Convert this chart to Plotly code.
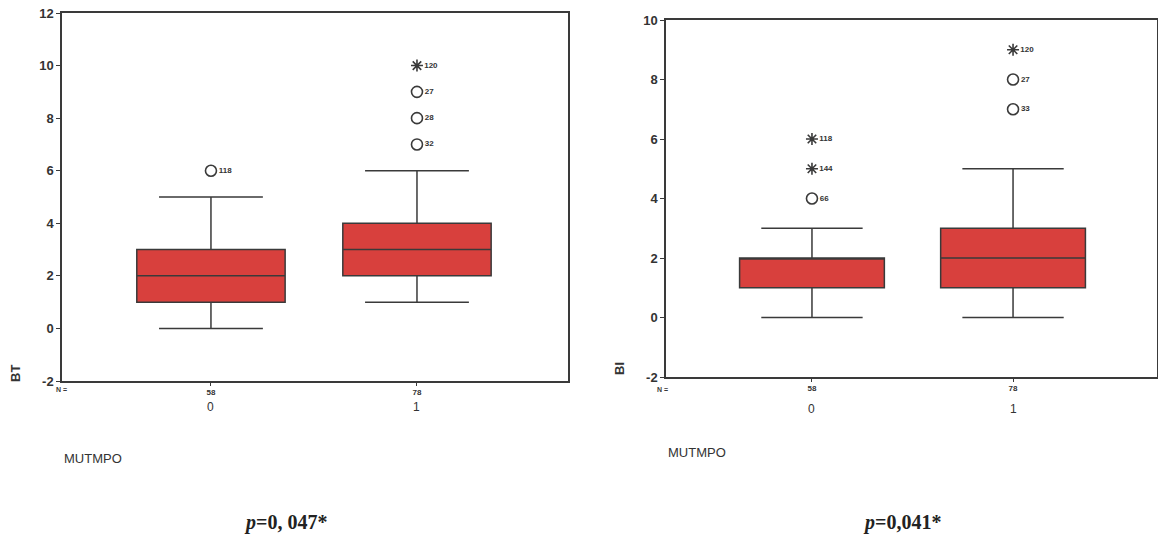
import plotly.graph_objects as go

# ---------------- data ----------------
groups = [0, 1]
group_labels = ["0", "1"]
n_counts = ["58", "78"]

# BT (left panel)
bt_lower = [0, 1]
bt_q1 = [1, 2]
bt_median = [2, 3]
bt_q3 = [3, 4]
bt_upper = [5, 6]
bt_out_x = [0, 1, 1, 1, 1]
bt_out_y = [6, 7, 8, 9, 10]
bt_out_label = ["118", "32", "28", "27", "120"]
bt_out_extreme = [False, False, False, False, True]
bt_ticks = [-2, 0, 2, 4, 6, 8, 10, 12]

# BI (right panel)
bi_lower = [0, 0]
bi_q1 = [1, 1]
bi_median = [2, 2]
bi_q3 = [2, 3]
bi_upper = [3, 5]
bi_out_x = [0, 0, 0, 1, 1, 1]
bi_out_y = [4, 5, 6, 7, 8, 9]
bi_out_label = ["66", "144", "118", "33", "27", "120"]
bi_out_extreme = [False, True, True, False, False, True]
bi_ticks = [-2, 0, 2, 4, 6, 8, 10]

p_left = "0, 047*"
p_right = "0,041*"

# ---------------- style ----------------
W, H = 1158, 539
RED = "#d8403d"
DARK = "#3a3a3a"
SANS = "Liberation Sans, Arial, sans-serif"
SERIF = "Liberation Serif, Times New Roman, serif"

fig = go.Figure()


def add_panel(xa, ya, lower, q1, med, q3, upper, ox, oy, olab, oext):
    fig.add_trace(go.Box(
        x=groups, q1=q1, median=med, q3=q3, lowerfence=lower, upperfence=upper,
        width=0.72, whiskerwidth=0.7, fillcolor=RED,
        line=dict(color=DARK, width=1.5), boxpoints=False,
        xaxis=xa, yaxis=ya, showlegend=False, hoverinfo="skip",
    ))
    for ext in (False, True):
        xs = [x for x, e in zip(ox, oext) if e == ext]
        ys = [y for y, e in zip(oy, oext) if e == ext]
        ls = [f"<b>{l}</b>" for l, e in zip(olab, oext) if e == ext]
        fig.add_trace(go.Scatter(
            x=xs, y=ys, text=ls, mode="markers+text",
            textposition="middle right",
            textfont=dict(family=SANS, size=8, color="#333333"),
            marker=dict(
                symbol="asterisk-open" if ext else "circle-open",
                size=10 if ext else 11,
                color=DARK,
                line=dict(color=DARK, width=1.6),
            ),
            xaxis=xa, yaxis=ya, showlegend=False, hoverinfo="skip",
        ))


add_panel("x", "y", bt_lower, bt_q1, bt_median, bt_q3, bt_upper,
          bt_out_x, bt_out_y, bt_out_label, bt_out_extreme)
add_panel("x2", "y2", bi_lower, bi_q1, bi_median, bi_q3, bi_upper,
          bi_out_x, bi_out_y, bi_out_label, bi_out_extreme)

axis_common = dict(showline=True, mirror=True, linecolor=DARK, linewidth=1.5,
                   showgrid=False, zeroline=False, ticks="outside",
                   tickcolor=DARK, ticklen=4, tickwidth=1.2, automargin=False)

xfont = dict(family=SANS, size=8, color="#333333")
yfont = dict(family=SANS, size=13, color="#333333")

fig.update_layout(
    width=W, height=H, margin=dict(l=0, r=0, t=0, b=0, autoexpand=False),
    paper_bgcolor="white", plot_bgcolor="white",
    xaxis=dict(domain=[62 / W, 568 / W], range=[-0.723, 1.733],
               tickvals=groups, ticktext=[f"<b>{n}</b>" for n in n_counts],
               tickfont=xfont, anchor="y", **{**axis_common, "ticklen": 3}),
    yaxis=dict(domain=[1 - 381 / H, 1 - 13 / H], range=[-2, 12],
               tickvals=bt_ticks, ticktext=[f"<b>{t}</b>" for t in bt_ticks],
               tickfont=yfont, anchor="x", **axis_common),
    xaxis2=dict(domain=[666 / W, 1157 / W], range=[-0.726, 1.716],
                tickvals=groups, ticktext=[f"<b>{n}</b>" for n in n_counts],
                tickfont=xfont, anchor="y2", **{**axis_common, "ticklen": 3}),
    yaxis2=dict(domain=[1 - 377 / H, 1 - 20 / H], range=[-2, 10],
                tickvals=bi_ticks, ticktext=[f"<b>{t}</b>" for t in bi_ticks],
                tickfont=yfont, anchor="x2", **axis_common),
)

ann = []


def note(x, y, text, font, xref="paper", xanchor="center", angle=0):
    ann.append(dict(x=x, y=1 - y / H, xref=xref, yref="paper", text=text,
                    xanchor=xanchor, yanchor="middle", textangle=angle,
                    showarrow=False, font=font))


for xa, ya_px in (("x", 407), ("x2", 409)):
    for g, lab in zip(groups, group_labels):
        note(g, ya_px, lab, dict(family=SANS, size=12, color="#333333"), xref=xa)

nfont = dict(family=SANS, size=7, color=DARK)
note(61 / W, 389, "<b>N =</b>", nfont)
note(662 / W, 389, "<b>N =</b>", nfont)
tfont = dict(family=SANS, size=13, color="#333333")
note(15 / W, 373, "<b>BT</b>", tfont, angle=-90)
note(619 / W, 369, "<b>BI</b>", tfont, angle=-90)
mfont = dict(family=SANS, size=13, color="#333333")
note(62 / W, 458, "MUTMPO", mfont, xanchor="left")
note(666 / W, 452, "MUTMPO", mfont, xanchor="left")
pfont = dict(family=SERIF, size=20, color="#222222")
note(285 / W, 522, "<b><i>p</i>=" + p_left + "</b>", pfont)
note(902 / W, 522, "<b><i>p</i>=" + p_right + "</b>", pfont)

fig.update_layout(annotations=ann)
fig.write_html("out.html")
